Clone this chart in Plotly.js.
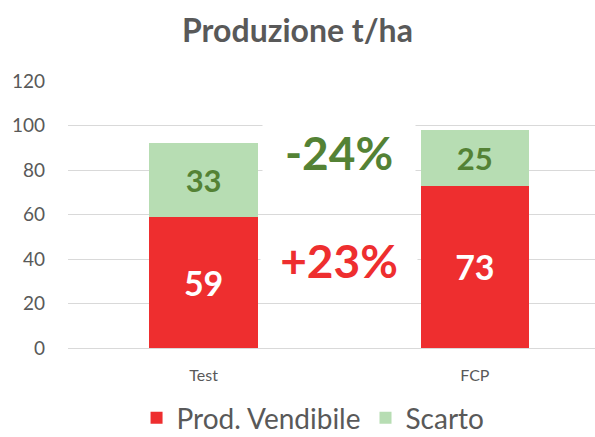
<!DOCTYPE html>
<html>
<head>
<meta charset="utf-8">
<script src="https://cdn.plot.ly/plotly-3.0.1.min.js"></script>
<style>html,body{margin:0;padding:0;background:#fff;overflow:hidden}</style>
</head>
<body>
<div id="chart" style="width:595px;height:437px"></div>
<script>
const categories = ["Test", "FCP"];
const vendibile = [59, 73];
const scarto = [33, 25];
const seriesNames = ["Prod. Vendibile", "Scarto"];
const changeLabels = ["-24%", "+23%"];
const changeY = [88, 39.5];
const yTicks = [0, 20, 40, 60, 80, 100, 120];

const FONT = "Lato, 'Open Sans', sans-serif";
const RED = "#EE2E2F";
const LGREEN = "#B7DDB3";
const DGREEN = "#548235";
const GRAY = "#595959";

const traces = [
  {
    type: "bar", name: seriesNames[0], x: categories, y: vendibile,
    marker: {color: RED}, width: 0.4,
    text: vendibile.map(String), textposition: "inside", insidetextanchor: "middle",
    textfont: {family: FONT, size: 34, color: "#FFFFFF", weight: 700},
    constraintext: "none", hoverinfo: "skip"
  },
  {
    type: "bar", name: seriesNames[1], x: categories, y: scarto,
    marker: {color: LGREEN}, width: 0.4,
    text: scarto.map(String), textposition: "inside", insidetextanchor: "middle",
    textfont: {family: FONT, size: 31, color: DGREEN, weight: 700},
    constraintext: "none", hoverinfo: "skip"
  }
];

const layout = {
  width: 595, height: 437,
  margin: {l: 68, r: 0, t: 81, b: 89, pad: 0, autoexpand: false},
  paper_bgcolor: "#FFFFFF", plot_bgcolor: "#FFFFFF",
  barmode: "stack",
  font: {family: FONT, color: GRAY},
  title: {
    text: "<b>Produzione t/ha</b>",
    font: {family: FONT, size: 32, color: GRAY},
    x: 0.5, xref: "container", xanchor: "center",
    y: 0.93, yref: "container", yanchor: "middle"
  },
  xaxis: {
    type: "category", range: [-0.5, 1.443],
    showgrid: false, zeroline: false, showline: false,
    ticks: "", ticklabelstandoff: 16,
    tickfont: {family: FONT, size: 16, color: GRAY}
  },
  yaxis: {
    range: [0, 120], tickvals: yTicks, ticktext: yTicks.map(String),
    showgrid: true, gridcolor: "#D9D9D9", gridwidth: 1,
    zeroline: true, zerolinecolor: "#D9D9D9", zerolinewidth: 1,
    showline: false, ticks: "", ticklabelstandoff: 22,
    tickfont: {family: FONT, size: 19, color: GRAY}
  },
  showlegend: true,
  legend: {
    orientation: "h", x: 0.465, xanchor: "center", xref: "paper",
    y: -0.262, yref: "paper", yanchor: "middle",
    font: {family: FONT, size: 28, color: GRAY},
    traceorder: "normal", itemwidth: 30
  },
  annotations: [
    {
      x: 0.5, y: changeY[0], xref: "x", yref: "y", text: "<b>" + changeLabels[0] + "</b>",
      showarrow: false, font: {family: FONT, size: 46, color: DGREEN},
      bgcolor: "#FFFFFF", borderpad: 6, width: 140, height: 58
    },
    {
      x: 0.5, y: changeY[1], xref: "x", yref: "y", text: "<b>" + changeLabels[1] + "</b>",
      showarrow: false, font: {family: FONT, size: 46, color: RED},
      bgcolor: "#FFFFFF", borderpad: 4, width: 148, height: 62
    }
  ]
};

Plotly.newPlot("chart", traces, layout, {staticPlot: true, displayModeBar: false});
</script>
</body>
</html>
